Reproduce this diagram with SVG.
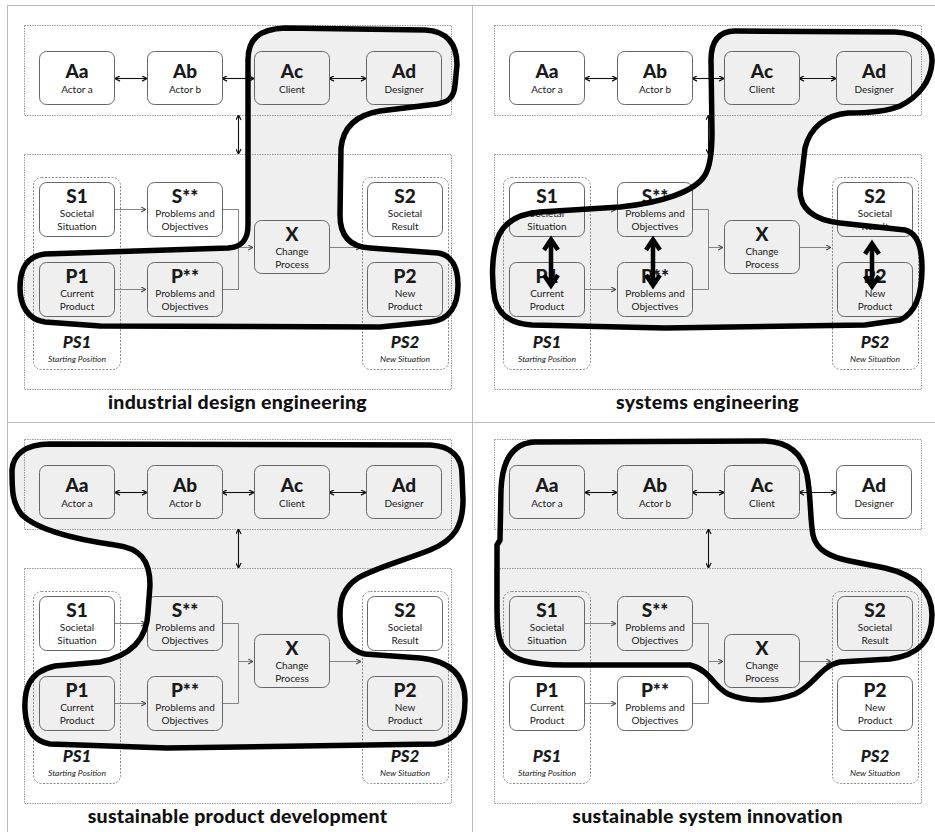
<svg xmlns="http://www.w3.org/2000/svg" width="935" height="832" viewBox="0 0 935 832">
<style>
.node{fill:none;stroke:#666;stroke-width:1}
.frame{fill:none;stroke:#9a9a9a;stroke-width:1;stroke-dasharray:1.5 1}
.sub{fill:none;stroke:#888;stroke-width:1;stroke-dasharray:2 1.5}
text{font-family:Lato,"Open Sans","Liberation Sans",sans-serif;fill:#1a1a1a;text-anchor:middle}
.t{font-size:19px;font-weight:900}
.s{font-size:10px}
.ps{font-size:17px;font-weight:900;font-style:italic}
.pss{font-size:8.5px;font-style:italic}
.title{font-size:19.5px;font-weight:900;fill:#111;letter-spacing:0.3px}
.dbl{fill:none;stroke:#111;stroke-width:1.1;marker-start:url(#ah);marker-end:url(#ah)}
.flow{fill:none;stroke:#777;stroke-width:0.9}
.fa{marker-end:url(#ahg)}
.blobfill{fill:#efefef;stroke:none}
.blobline{fill:none;stroke:#000;stroke-width:5.5;stroke-linejoin:round}
.thick{fill:none;stroke:#000;stroke-width:4.5;stroke-linejoin:miter}
.grid{stroke:#bbb;stroke-width:1}
</style>
<defs>
<marker id="ah" viewBox="0 0 6 6" refX="5.6" refY="3" markerWidth="6" markerHeight="6" markerUnits="userSpaceOnUse" orient="auto-start-reverse"><path d="M0.6,0.4 L5.6,3 L0.6,5.6" fill="none" stroke="#111" stroke-width="1.2"/></marker>
<marker id="ahg" viewBox="0 0 6 6" refX="5.6" refY="3" markerWidth="6" markerHeight="6" markerUnits="userSpaceOnUse" orient="auto"><path d="M0.8,0.6 L5.6,3 L0.8,5.4" fill="none" stroke="#444" stroke-width="1.1"/></marker>
<path id="blob1" d="M248,87 L248,60 C248,40 258,29 285,28 L425,30 C448,31 457,45 457,65 L455,85 C454,98 448,102 437,104 L380,111 C356,115 343,127 341,148 L340,215 C340,236 350,247 370,248 L438,253 C452,255 458,268 458,285 C458,305 450,320 430,322 L380,327 L100,326 L45,322 C28,320 20,305 20,288 C20,268 27,256 45,254 L228,248 C242,247 248,240 248,225 Z"/>
<path id="blob2" d="M712,133 L711,60 C711,42 718,31 735,31 L895,32 C920,33 933,45 932,62 C931,80 920,96 900,106 C885,112 865,113 848,113 C825,115 810,128 805,148 L800,190 C800,210 815,220 840,223 L905,230 C918,233 922,248 922,268 C922,290 918,312 900,320 L865,325 L665,328 L532,325 C515,324 500,318 495,300 C491,280 492,255 497,240 C502,225 515,214 540,212 L620,207 C660,203 695,192 705,175 C711,165 712,150 712,133 Z"/>
<path id="blob3" d="M50,444 L430,445 C452,446 462,458 462,475 L463,500 C463,525 455,540 430,550 C405,560 375,568 358,578 C343,588 340,600 340,615 C340,635 346,650 365,654 L420,658 C450,661 465,675 465,700 C465,725 458,740 435,744 L167,748 L50,744 C32,741 26,728 25,710 C24,690 28,672 55,666 L100,662 C130,656 147,640 148,612 L150,585 C150,560 140,548 115,545 C80,540 40,532 22,515 C12,503 12,490 12,470 C13,455 25,444 50,444 Z"/>
<path id="blob4" d="M535,442 L765,441 C790,442 803,455 807,475 C811,495 810,520 813,535 C816,550 830,557 850,561 L885,568 C915,575 932,590 932,615 C932,640 920,655 890,659 L840,662 C820,666 815,685 795,694 C775,702 745,702 728,694 C713,686 710,670 690,665 L565,665 C530,665 510,660 502,645 C497,635 497,620 497,600 L497,545 L500,540 L501,490 C502,465 510,443 535,442 Z"/>
</defs>
<rect width="935" height="832" fill="#fff"/>
<g id="grid">
<line class="grid" x1="7.5" y1="5" x2="7.5" y2="832"/>
<line class="grid" x1="7" y1="5.5" x2="935" y2="5.5"/>
<line class="grid" x1="472.5" y1="5" x2="472.5" y2="832"/>
<line class="grid" x1="7" y1="422.5" x2="935" y2="422.5"/>
</g>
<g id="blob-fills">
<use href="#blob1" class="blobfill"/>
<use href="#blob2" class="blobfill"/>
<use href="#blob3" class="blobfill"/>
<use href="#blob4" class="blobfill"/>
</g>

<g id="ide-panel" transform="translate(0,0)">
<g id="ide-frames"><rect class="frame" x="24.5" y="25.5" width="427" height="90"/><rect class="frame" x="24.5" y="154.5" width="427" height="235"/></g>
<g id="ide-connectors">
<path class="dbl" d="M115,78.5 H147"/><path class="dbl" d="M222,78.5 H254"/><path class="dbl" d="M329,78.5 H366"/><path class="dbl" d="M238.5,115 V154"/>
<path class="flow fa" d="M115,209.5 H146"/><path class="flow fa" d="M115,289.5 H146"/><path class="flow" d="M222,209.5 H238.5 V289.5 H222"/><path class="flow fa" d="M238.5,247.5 H253"/><path class="flow fa" d="M329,247.5 H361"/>
</g>
<g id="ide-PS1"><rect class="sub" x="33.5" y="177.5" width="87" height="192" rx="8"/><text class="ps" x="77" y="348">PS1</text><text class="pss" x="77" y="362">Starting Position</text></g>
<g id="ide-PS2"><rect class="sub" x="362.5" y="177.5" width="86" height="192" rx="8"/><text class="ps" x="405" y="348">PS2</text><text class="pss" x="405" y="362">New Situation</text></g>
<g id="ide-Aa"><rect class="node" x="39.5" y="51.5" width="75" height="53" rx="7"/><text class="t" x="77" y="78">Aa</text><text class="s" x="77" y="93">Actor a</text></g>
<g id="ide-Ab"><rect class="node" x="147.5" y="51.5" width="75" height="53" rx="7"/><text class="t" x="185" y="78">Ab</text><text class="s" x="185" y="93">Actor b</text></g>
<g id="ide-Ac"><rect class="node" x="254.5" y="51.5" width="75" height="53" rx="7"/><text class="t" x="292" y="78">Ac</text><text class="s" x="292" y="93">Client</text></g>
<g id="ide-Ad"><rect class="node" x="366.5" y="51.5" width="75" height="53" rx="7"/><text class="t" x="404" y="78">Ad</text><text class="s" x="404" y="93">Designer</text></g>
<g id="ide-S1"><rect class="node" x="39.5" y="182.5" width="75" height="54" rx="7"/><text class="t" x="77" y="203">S1</text><text class="s" x="77" y="217">Societal</text><text class="s" x="77" y="230">Situation</text></g>
<g id="ide-Sss"><rect class="node" x="147.5" y="182.5" width="75" height="54" rx="7"/><text class="t" x="185" y="203">S**</text><text class="s" x="185" y="217">Problems and</text><text class="s" x="185" y="230">Objectives</text></g>
<g id="ide-S2"><rect class="node" x="367.5" y="182.5" width="75" height="54" rx="7"/><text class="t" x="405" y="203">S2</text><text class="s" x="405" y="217">Societal</text><text class="s" x="405" y="230">Result</text></g>
<g id="ide-X"><rect class="node" x="254.5" y="220.5" width="75" height="53" rx="7"/><text class="t" x="292" y="241">X</text><text class="s" x="292" y="255">Change</text><text class="s" x="292" y="268">Process</text></g>
<g id="ide-P1"><rect class="node" x="39.5" y="262.5" width="75" height="54" rx="7"/><text class="t" x="77" y="283">P1</text><text class="s" x="77" y="297">Current</text><text class="s" x="77" y="310">Product</text></g>
<g id="ide-Pss"><rect class="node" x="147.5" y="262.5" width="75" height="54" rx="7"/><text class="t" x="185" y="283">P**</text><text class="s" x="185" y="297">Problems and</text><text class="s" x="185" y="310">Objectives</text></g>
<g id="ide-P2"><rect class="node" x="367.5" y="262.5" width="75" height="54" rx="7"/><text class="t" x="405" y="283">P2</text><text class="s" x="405" y="297">New</text><text class="s" x="405" y="310">Product</text></g>
<text class="title" x="237.5" y="409">industrial design engineering</text>
</g>

<g id="se-panel" transform="translate(470,0)">
<g id="se-frames"><rect class="frame" x="24.5" y="25.5" width="427" height="90"/><rect class="frame" x="24.5" y="154.5" width="427" height="235"/></g>
<g id="se-connectors">
<path class="dbl" d="M115,78.5 H147"/><path class="dbl" d="M222,78.5 H254"/><path class="dbl" d="M329,78.5 H366"/><path class="dbl" d="M238.5,115 V154"/>
<path class="flow fa" d="M115,209.5 H146"/><path class="flow fa" d="M115,289.5 H146"/><path class="flow" d="M222,209.5 H238.5 V289.5 H222"/><path class="flow fa" d="M238.5,247.5 H253"/><path class="flow fa" d="M329,247.5 H361"/>
</g>
<g id="se-PS1"><rect class="sub" x="33.5" y="177.5" width="87" height="192" rx="8"/><text class="ps" x="77" y="348">PS1</text><text class="pss" x="77" y="362">Starting Position</text></g>
<g id="se-PS2"><rect class="sub" x="362.5" y="177.5" width="86" height="192" rx="8"/><text class="ps" x="405" y="348">PS2</text><text class="pss" x="405" y="362">New Situation</text></g>
<g id="se-Aa"><rect class="node" x="39.5" y="51.5" width="75" height="53" rx="7"/><text class="t" x="77" y="78">Aa</text><text class="s" x="77" y="93">Actor a</text></g>
<g id="se-Ab"><rect class="node" x="147.5" y="51.5" width="75" height="53" rx="7"/><text class="t" x="185" y="78">Ab</text><text class="s" x="185" y="93">Actor b</text></g>
<g id="se-Ac"><rect class="node" x="254.5" y="51.5" width="75" height="53" rx="7"/><text class="t" x="292" y="78">Ac</text><text class="s" x="292" y="93">Client</text></g>
<g id="se-Ad"><rect class="node" x="366.5" y="51.5" width="75" height="53" rx="7"/><text class="t" x="404" y="78">Ad</text><text class="s" x="404" y="93">Designer</text></g>
<g id="se-S1"><rect class="node" x="39.5" y="182.5" width="75" height="54" rx="7"/><text class="t" x="77" y="203">S1</text><text class="s" x="77" y="217">Societal</text><text class="s" x="77" y="230">Situation</text></g>
<g id="se-Sss"><rect class="node" x="147.5" y="182.5" width="75" height="54" rx="7"/><text class="t" x="185" y="203">S**</text><text class="s" x="185" y="217">Problems and</text><text class="s" x="185" y="230">Objectives</text></g>
<g id="se-S2"><rect class="node" x="367.5" y="182.5" width="75" height="54" rx="7"/><text class="t" x="405" y="203">S2</text><text class="s" x="405" y="217">Societal</text><text class="s" x="405" y="230">Result</text></g>
<g id="se-X"><rect class="node" x="254.5" y="220.5" width="75" height="53" rx="7"/><text class="t" x="292" y="241">X</text><text class="s" x="292" y="255">Change</text><text class="s" x="292" y="268">Process</text></g>
<g id="se-P1"><rect class="node" x="39.5" y="262.5" width="75" height="54" rx="7"/><text class="t" x="77" y="283">P1</text><text class="s" x="77" y="297">Current</text><text class="s" x="77" y="310">Product</text></g>
<g id="se-Pss"><rect class="node" x="147.5" y="262.5" width="75" height="54" rx="7"/><text class="t" x="185" y="283">P**</text><text class="s" x="185" y="297">Problems and</text><text class="s" x="185" y="310">Objectives</text></g>
<g id="se-P2"><rect class="node" x="367.5" y="262.5" width="75" height="54" rx="7"/><text class="t" x="405" y="283">P2</text><text class="s" x="405" y="297">New</text><text class="s" x="405" y="310">Product</text></g>
<text class="title" x="237.5" y="409">systems engineering</text>
</g>

<g id="spd-panel" transform="translate(0,414)">
<g id="spd-frames"><rect class="frame" x="24.5" y="25.5" width="427" height="90"/><rect class="frame" x="24.5" y="154.5" width="427" height="235"/></g>
<g id="spd-connectors">
<path class="dbl" d="M115,78.5 H147"/><path class="dbl" d="M222,78.5 H254"/><path class="dbl" d="M329,78.5 H366"/><path class="dbl" d="M238.5,115 V154"/>
<path class="flow fa" d="M115,209.5 H146"/><path class="flow fa" d="M115,289.5 H146"/><path class="flow" d="M222,209.5 H238.5 V289.5 H222"/><path class="flow fa" d="M238.5,247.5 H253"/><path class="flow fa" d="M329,247.5 H361"/>
</g>
<g id="spd-PS1"><rect class="sub" x="33.5" y="177.5" width="87" height="192" rx="8"/><text class="ps" x="77" y="348">PS1</text><text class="pss" x="77" y="362">Starting Position</text></g>
<g id="spd-PS2"><rect class="sub" x="362.5" y="177.5" width="86" height="192" rx="8"/><text class="ps" x="405" y="348">PS2</text><text class="pss" x="405" y="362">New Situation</text></g>
<g id="spd-Aa"><rect class="node" x="39.5" y="51.5" width="75" height="53" rx="7"/><text class="t" x="77" y="78">Aa</text><text class="s" x="77" y="93">Actor a</text></g>
<g id="spd-Ab"><rect class="node" x="147.5" y="51.5" width="75" height="53" rx="7"/><text class="t" x="185" y="78">Ab</text><text class="s" x="185" y="93">Actor b</text></g>
<g id="spd-Ac"><rect class="node" x="254.5" y="51.5" width="75" height="53" rx="7"/><text class="t" x="292" y="78">Ac</text><text class="s" x="292" y="93">Client</text></g>
<g id="spd-Ad"><rect class="node" x="366.5" y="51.5" width="75" height="53" rx="7"/><text class="t" x="404" y="78">Ad</text><text class="s" x="404" y="93">Designer</text></g>
<g id="spd-S1"><rect class="node" x="39.5" y="182.5" width="75" height="54" rx="7"/><text class="t" x="77" y="203">S1</text><text class="s" x="77" y="217">Societal</text><text class="s" x="77" y="230">Situation</text></g>
<g id="spd-Sss"><rect class="node" x="147.5" y="182.5" width="75" height="54" rx="7"/><text class="t" x="185" y="203">S**</text><text class="s" x="185" y="217">Problems and</text><text class="s" x="185" y="230">Objectives</text></g>
<g id="spd-S2"><rect class="node" x="367.5" y="182.5" width="75" height="54" rx="7"/><text class="t" x="405" y="203">S2</text><text class="s" x="405" y="217">Societal</text><text class="s" x="405" y="230">Result</text></g>
<g id="spd-X"><rect class="node" x="254.5" y="220.5" width="75" height="53" rx="7"/><text class="t" x="292" y="241">X</text><text class="s" x="292" y="255">Change</text><text class="s" x="292" y="268">Process</text></g>
<g id="spd-P1"><rect class="node" x="39.5" y="262.5" width="75" height="54" rx="7"/><text class="t" x="77" y="283">P1</text><text class="s" x="77" y="297">Current</text><text class="s" x="77" y="310">Product</text></g>
<g id="spd-Pss"><rect class="node" x="147.5" y="262.5" width="75" height="54" rx="7"/><text class="t" x="185" y="283">P**</text><text class="s" x="185" y="297">Problems and</text><text class="s" x="185" y="310">Objectives</text></g>
<g id="spd-P2"><rect class="node" x="367.5" y="262.5" width="75" height="54" rx="7"/><text class="t" x="405" y="283">P2</text><text class="s" x="405" y="297">New</text><text class="s" x="405" y="310">Product</text></g>
<text class="title" x="237.5" y="409">sustainable product development</text>
</g>

<g id="ssi-panel" transform="translate(470,414)">
<g id="ssi-frames"><rect class="frame" x="24.5" y="25.5" width="427" height="90"/><rect class="frame" x="24.5" y="154.5" width="427" height="235"/></g>
<g id="ssi-connectors">
<path class="dbl" d="M115,78.5 H147"/><path class="dbl" d="M222,78.5 H254"/><path class="dbl" d="M329,78.5 H366"/><path class="dbl" d="M238.5,115 V154"/>
<path class="flow fa" d="M115,209.5 H146"/><path class="flow fa" d="M115,289.5 H146"/><path class="flow" d="M222,209.5 H238.5 V289.5 H222"/><path class="flow fa" d="M238.5,247.5 H253"/><path class="flow fa" d="M329,247.5 H361"/>
</g>
<g id="ssi-PS1"><rect class="sub" x="33.5" y="177.5" width="87" height="192" rx="8"/><text class="ps" x="77" y="348">PS1</text><text class="pss" x="77" y="362">Starting Position</text></g>
<g id="ssi-PS2"><rect class="sub" x="362.5" y="177.5" width="86" height="192" rx="8"/><text class="ps" x="405" y="348">PS2</text><text class="pss" x="405" y="362">New Situation</text></g>
<g id="ssi-Aa"><rect class="node" x="39.5" y="51.5" width="75" height="53" rx="7"/><text class="t" x="77" y="78">Aa</text><text class="s" x="77" y="93">Actor a</text></g>
<g id="ssi-Ab"><rect class="node" x="147.5" y="51.5" width="75" height="53" rx="7"/><text class="t" x="185" y="78">Ab</text><text class="s" x="185" y="93">Actor b</text></g>
<g id="ssi-Ac"><rect class="node" x="254.5" y="51.5" width="75" height="53" rx="7"/><text class="t" x="292" y="78">Ac</text><text class="s" x="292" y="93">Client</text></g>
<g id="ssi-Ad"><rect class="node" x="366.5" y="51.5" width="75" height="53" rx="7"/><text class="t" x="404" y="78">Ad</text><text class="s" x="404" y="93">Designer</text></g>
<g id="ssi-S1"><rect class="node" x="39.5" y="182.5" width="75" height="54" rx="7"/><text class="t" x="77" y="203">S1</text><text class="s" x="77" y="217">Societal</text><text class="s" x="77" y="230">Situation</text></g>
<g id="ssi-Sss"><rect class="node" x="147.5" y="182.5" width="75" height="54" rx="7"/><text class="t" x="185" y="203">S**</text><text class="s" x="185" y="217">Problems and</text><text class="s" x="185" y="230">Objectives</text></g>
<g id="ssi-S2"><rect class="node" x="367.5" y="182.5" width="75" height="54" rx="7"/><text class="t" x="405" y="203">S2</text><text class="s" x="405" y="217">Societal</text><text class="s" x="405" y="230">Result</text></g>
<g id="ssi-X"><rect class="node" x="254.5" y="220.5" width="75" height="53" rx="7"/><text class="t" x="292" y="241">X</text><text class="s" x="292" y="255">Change</text><text class="s" x="292" y="268">Process</text></g>
<g id="ssi-P1"><rect class="node" x="39.5" y="262.5" width="75" height="54" rx="7"/><text class="t" x="77" y="283">P1</text><text class="s" x="77" y="297">Current</text><text class="s" x="77" y="310">Product</text></g>
<g id="ssi-Pss"><rect class="node" x="147.5" y="262.5" width="75" height="54" rx="7"/><text class="t" x="185" y="283">P**</text><text class="s" x="185" y="297">Problems and</text><text class="s" x="185" y="310">Objectives</text></g>
<g id="ssi-P2"><rect class="node" x="367.5" y="262.5" width="75" height="54" rx="7"/><text class="t" x="405" y="283">P2</text><text class="s" x="405" y="297">New</text><text class="s" x="405" y="310">Product</text></g>
<text class="title" x="237.5" y="409">sustainable system innovation</text>
</g>

<g id="blob-outlines">
<use href="#blob1" class="blobline"/>
<use href="#blob2" class="blobline"/>
<use href="#blob3" class="blobline"/>
<use href="#blob4" class="blobline"/>
</g>
<g id="se-thick-arrows">
<path class="thick" d="M551,240 V285 M544,250 L551,239.5 L558,250 M544,275 L551,285.5 L558,275"/>
<path class="thick" d="M653,240 V285 M646,250 L653,239.5 L660,250 M646,275 L653,285.5 L660,275"/>
<path class="thick" d="M872,244 V286 M865,254 L872,243.5 L879,254 M865,276 L872,286.5 L879,276"/>
</g>
</svg>
